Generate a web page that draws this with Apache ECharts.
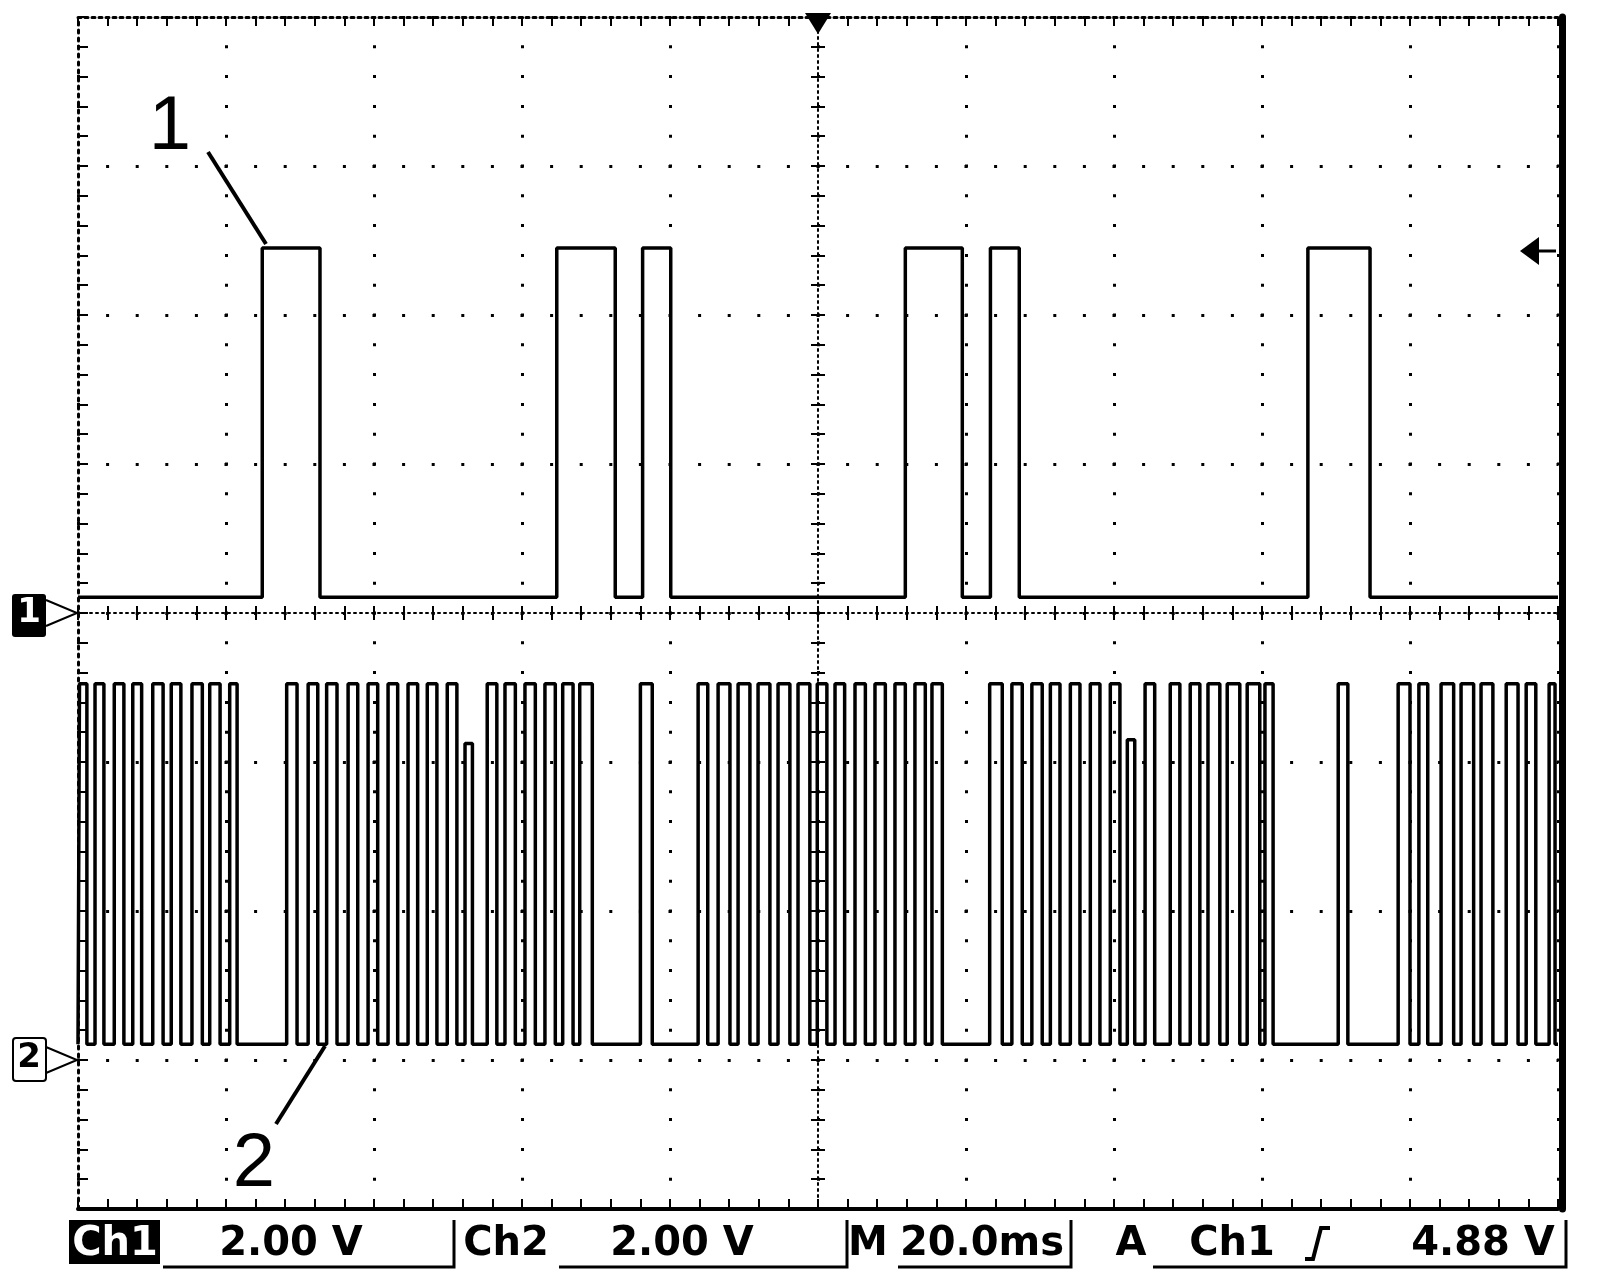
<!DOCTYPE html>
<html>
<head>
<meta charset="utf-8">
<script src="https://cdn.jsdelivr.net/npm/echarts@6/dist/echarts.min.js"></script>
<style>html,body{margin:0;padding:0;background:#fff}#c{width:1600px;height:1286px}</style>
</head>
<body>
<div id="c"></div>
<script>
// ---- data (time in ms from left edge of screen, 20 ms/div; volts) ----
const timeRange = [0, 200];
const ch1Pulses = [[24.9,32.7],[64.7,72.6],[76.3,80.1],[111.8,119.5],[123.3,127.2],[166.2,174.6]];
const ch1Levels = [0.21, 4.9];            // low, high (V)
// [rise, fall] or [rise, fall, peak V] for the two partly drawn pulses
const ch2Pulses = [
  [0.2,1.2],[2.3,3.5],[4.9,6.2],[7.4,8.6],[10.1,11.5],[12.6,13.9],[15.4,16.8],[17.8,19.2],[20.5,21.5],
  [28.2,29.6],[31.1,32.4],[33.6,35.0],[36.5,37.8],[39.2,40.5],[41.9,43.2],[44.6,45.9],[47.2,48.5],[49.9,51.2],
  [52.3,53.3,4.25],
  [55.3,56.6],[57.7,59.1],[60.4,61.8],[63.1,64.5],[65.5,66.9],[67.8,69.5],
  [76.0,77.6],
  [83.8,85.1],[86.5,88.1],[89.2,90.8],[91.9,93.5],[94.6,96.2],[97.3,98.9],[99.9,101.2],[102.3,103.6],
  [105.0,106.4],[107.7,109.1],[110.4,111.8],[113.1,114.5],[115.4,116.8],
  [123.2,124.9],[126.2,127.6],[128.9,130.3],[131.4,132.7],[134.1,135.4],[136.8,138.1],[139.5,140.8],
  [141.8,142.8,4.3],
  [144.2,145.5],[147.6,148.9],[150.3,151.6],[152.7,154.3],[155.3,157.0],[158.0,159.7],[160.4,161.5],
  [170.3,171.6],
  [178.4,180.0],[181.2,182.4],[184.2,185.9],[186.9,188.6],[189.6,191.2],[193.0,194.6],[195.7,197.0],[198.8,199.6]
];
const ch2Levels = [0.21, 5.05];           // low, high (V)
const ch1Range = [-8, 8];                 // 2 V/div, ground at centre
const ch2Range = [-2, 14];                // 2 V/div, ground 3 div below centre
const statusTexts = ['Ch1', '2.00 V', 'Ch2', '2.00 V', 'M', '20.0ms', 'A', 'Ch1', '4.88 V'];
const annotationLabels = ['1', '2'];

function stepData(pulses, levels) {
  const lo = levels[0];
  const d = [[timeRange[0], lo]];
  pulses.forEach(function (p) {
    const hi = p.length > 2 ? p[2] : levels[1];
    d.push([p[0], lo], [p[0], hi], [p[1], hi], [p[1], lo]);
  });
  d.push([timeRange[1], lo]);
  return d;
}

const K = '#000';
const tick = function (len) { return {show: true, inside: true, length: len, lineStyle: {color: K, width: 2}}; };
const minor = function (len) { return {show: true, splitNumber: 5, length: len, lineStyle: {color: K, width: 2}}; };
const noLabel = {show: false};

const chart = echarts.init(document.getElementById('c'), null, {renderer: 'canvas'});
const statusFont = 'bold 40px "DejaVu Sans"';
const sy = 1245;
function sText(i, x, color) {
  return {type: 'text', z: 21, style: {text: statusTexts[i], x: x, y: sy, font: statusFont, fill: color || K,
    align: 'center', verticalAlign: 'middle', textAlign: 'center', textVerticalAlign: 'middle'}};
}
function field(x0, x1) {
  return {type: 'polyline', z: 20, shape: {points: [[x0, 1267], [x1, 1267], [x1, 1220]]}, style: {stroke: K, lineWidth: 3, fill: null}};
}

chart.setOption({
  animation: false,
  backgroundColor: '#fff',
  grid: {left: 78, top: 17, width: 1480, height: 1192, containLabel: false, outerBoundsMode: 'none'},
  xAxis: [
    {type: 'value', min: timeRange[0], max: timeRange[1], interval: 20, position: 'bottom',
     axisLine: {show: true, onZero: false, lineStyle: {color: K, width: 4}},
     axisTick: tick(10), minorTick: minor(10), axisLabel: noLabel,
     splitLine: {show: true, lineStyle: {color: K, width: 3, type: [3, 26.8], dashOffset: 1.5}}},
    {type: 'value', min: timeRange[0], max: timeRange[1], interval: 20, position: 'top',
     axisLine: {show: true, onZero: false, lineStyle: {color: K, width: 3, type: [3, 4]}},
     axisTick: tick(9), minorTick: minor(9), axisLabel: noLabel, splitLine: {show: false}},
    {type: 'value', min: timeRange[0], max: timeRange[1], interval: 20, position: 'bottom', offset: -596,
     axisLine: {show: true, onZero: false, lineStyle: {color: K, width: 2, type: [2, 4]}},
     axisTick: tick(7), minorTick: minor(7), axisLabel: noLabel, splitLine: {show: false}},
    {type: 'value', min: timeRange[0], max: timeRange[1], interval: 20, position: 'top', offset: -596,
     axisLine: {show: false, onZero: false},
     axisTick: tick(7), minorTick: minor(7), axisLabel: noLabel, splitLine: {show: false}}
  ],
  yAxis: [
    {type: 'value', min: ch1Range[0], max: ch1Range[1], interval: 2, position: 'left',
     axisLine: {show: true, onZero: false, lineStyle: {color: K, width: 3, type: [3, 5]}},
     axisTick: tick(10), minorTick: minor(10), axisLabel: noLabel,
     splitLine: {show: true, lineStyle: {color: K, width: 3, type: [3, 26.6], dashOffset: 1.5}}},
    {type: 'value', min: ch2Range[0], max: ch2Range[1], interval: 2, position: 'right', show: false,
     axisLine: {onZero: false}, splitLine: {show: false}},
    {type: 'value', min: -4, max: 4, interval: 1, position: 'left', offset: -740,
     axisLine: {show: true, onZero: false, lineStyle: {color: K, width: 2, type: [2, 4]}},
     axisTick: tick(7), minorTick: minor(7), axisLabel: noLabel, splitLine: {show: false}},
    {type: 'value', min: -4, max: 4, interval: 1, position: 'right', offset: -740,
     axisLine: {show: false, onZero: false},
     axisTick: tick(7), minorTick: minor(7), axisLabel: noLabel, splitLine: {show: false}},
    {type: 'value', min: -4, max: 4, interval: 1, position: 'right', offset: 4,
     axisLine: {show: true, onZero: false, lineStyle: {color: K, width: 7}},
     axisTick: {show: false}, axisLabel: noLabel, splitLine: {show: false}}
  ],
  series: [
    {name: 'Ch1', type: 'line', xAxisIndex: 0, yAxisIndex: 0, data: stepData(ch1Pulses, ch1Levels),
     symbol: 'none', lineStyle: {color: K, width: 3.5}, z: 10},
    {name: 'Ch2', type: 'line', xAxisIndex: 0, yAxisIndex: 1, data: stepData(ch2Pulses, ch2Levels),
     symbol: 'none', lineStyle: {color: K, width: 3.5}, z: 10}
  ],
  graphic: [
    // annotation labels
    {type: 'text', z: 20, style: {text: annotationLabels[0], x: 170, y: 128, font: '76px "Liberation Sans"', fill: K,
      align: 'center', verticalAlign: 'middle', textAlign: 'center', textVerticalAlign: 'middle'}},
    {type: 'line', z: 20, shape: {x1: 208, y1: 152, x2: 266, y2: 244}, style: {stroke: K, lineWidth: 4}},
    {type: 'text', z: 20, style: {text: annotationLabels[1], x: 254, y: 1165, font: '76px "Liberation Sans"', fill: K,
      align: 'center', verticalAlign: 'middle', textAlign: 'center', textVerticalAlign: 'middle'}},
    {type: 'line', z: 20, shape: {x1: 276, y1: 1124, x2: 325, y2: 1046}, style: {stroke: K, lineWidth: 4}},
    // channel ground markers
    {type: 'rect', z: 20, shape: {x: 12, y: 594, width: 34, height: 43, r: 3}, style: {fill: K}},
    {type: 'text', z: 21, style: {text: '1', x: 29, y: 613, font: 'bold 34px "DejaVu Sans"', fill: '#fff',
      align: 'center', verticalAlign: 'middle', textAlign: 'center', textVerticalAlign: 'middle'}},
    {type: 'polyline', z: 20, shape: {points: [[46, 600], [77, 613], [46, 626]]}, style: {stroke: K, lineWidth: 2, fill: null}},
    {type: 'rect', z: 20, shape: {x: 13, y: 1038, width: 33, height: 43, r: 3}, style: {fill: '#fff', stroke: K, lineWidth: 2}},
    {type: 'text', z: 21, style: {text: '2', x: 29, y: 1058, font: 'bold 34px "DejaVu Sans"', fill: K,
      align: 'center', verticalAlign: 'middle', textAlign: 'center', textVerticalAlign: 'middle'}},
    {type: 'polyline', z: 20, shape: {points: [[46, 1047], [77, 1060], [46, 1073]]}, style: {stroke: K, lineWidth: 2, fill: null}},
    // trigger position & level markers
    {type: 'polygon', z: 20, shape: {points: [[805, 13], [831, 13], [818, 34]]}, style: {fill: K}},
    {type: 'polygon', z: 20, shape: {points: [[1520, 251], [1539, 237], [1539, 265]]}, style: {fill: K}},
    {type: 'line', z: 20, shape: {x1: 1538, y1: 251, x2: 1556, y2: 251}, style: {stroke: K, lineWidth: 3}},
    // status bar
    {type: 'rect', z: 20, shape: {x: 69, y: 1220, width: 91, height: 44}, style: {fill: K}},
    sText(0, 115, '#fff'),
    sText(1, 291),
    sText(2, 506),
    sText(3, 682),
    sText(4, 868),
    sText(5, 982),
    sText(6, 1131),
    sText(7, 1232),
    sText(8, 1483),
    {type: 'polyline', z: 20, shape: {points: [[1305, 1259], [1313, 1259], [1321, 1228], [1330, 1228]]}, style: {stroke: K, lineWidth: 4, fill: null}},
    field(163, 454),
    field(559, 847),
    field(898, 1071),
    field(1153, 1566)
  ]
});
</script>
</body>
</html>
